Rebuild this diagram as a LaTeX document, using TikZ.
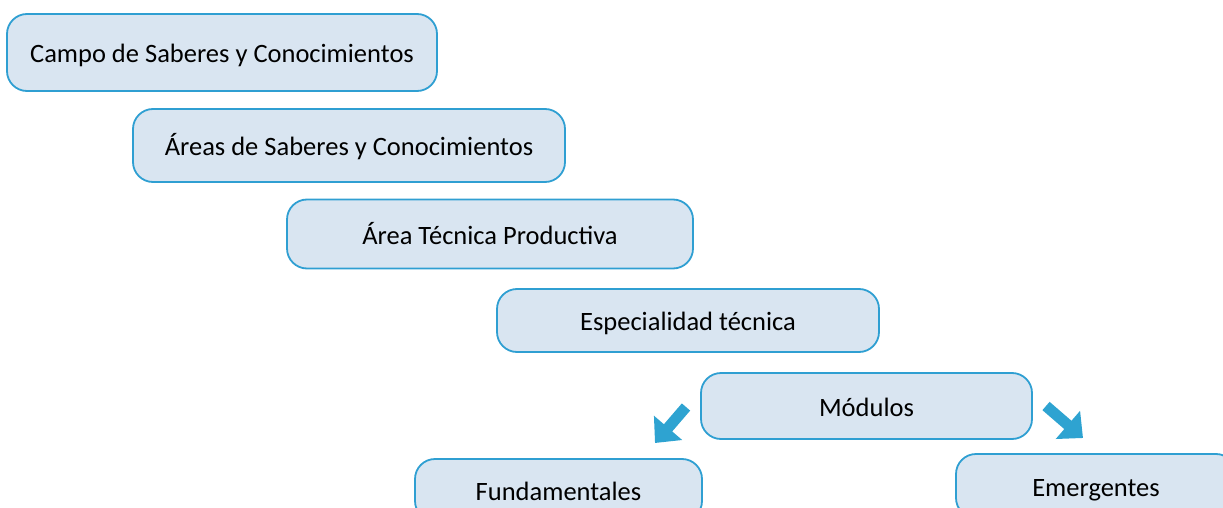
\documentclass[tikz,border=0pt]{standalone}
\usepackage{fontspec}
\setmainfont{Carlito}
\usetikzlibrary{arrows.meta}
\definecolor{boxfill}{HTML}{D9E5F1}
\definecolor{boxline}{HTML}{2F9FD2}
\definecolor{arrowblue}{HTML}{2EA3D1}
\begin{document}
\begin{tikzpicture}[x=1pt,y=-1pt,
  level/.style={draw=boxline, fill=boxfill, line width=1.8pt, rounded corners=20pt,
    inner sep=0pt, font=\fontsize{26.5}{32}\selectfont, text height=22pt, text depth=2pt},
  blockarrow/.style={draw=arrowblue, line width=11pt,
    -{Triangle[width=36pt,length=20pt]}}]
\useasboundingbox (0,0) rectangle (1223,508);
\begin{scope}
\clip (0,0) rectangle (1223,508);
\node[level, minimum width=430pt, minimum height=77pt] (campo) at (222,52.5) {Campo de Saberes y Conocimientos};
\node[level, minimum width=432pt, minimum height=73pt] (areas) at (349,145.5) {Áreas de Saberes y Conocimientos};
\node[level, minimum width=406pt, minimum height=69pt] (tecnica) at (490,234) {Área Técnica Productiva};
\node[level, minimum width=382pt, minimum height=63pt] (espec) at (688,320.5) {Especialidad técnica};
\node[level, minimum width=331pt, minimum height=66pt] (modulos) at (866.5,406) {Módulos};
\node[level, minimum width=287pt, minimum height=62pt] (fund) at (558.5,490) {Fundamentales};
\node[level, minimum width=280pt, minimum height=64pt] (emer) at (1096,486) {Emergentes};
\end{scope}
\coordinate (la) at (686,407);
\coordinate (lb) at (655,443);
\coordinate (ra) at (1046,406);
\coordinate (rb) at (1083,438);
\draw[blockarrow] (la) -- (lb);
\draw[blockarrow] (ra) -- (rb);
\end{tikzpicture}
\end{document}
